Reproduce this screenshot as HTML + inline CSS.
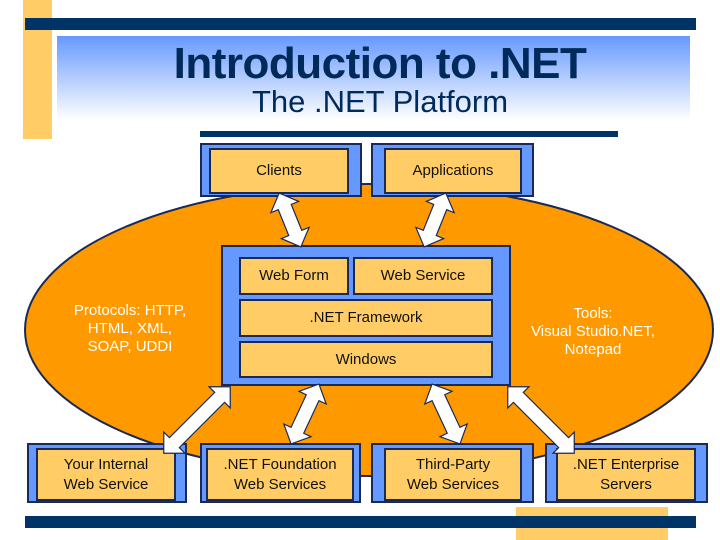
<!DOCTYPE html>
<html><head><style>
body{margin:0;width:720px;height:540px;background:#fff;overflow:hidden;position:relative;font-family:"Liberation Sans",sans-serif}
div{position:absolute;box-sizing:border-box}
.t{color:#002a5a;text-align:center;width:100%}
.box{background:#6699ff;border:2px solid #1a2a55}
.in{background:#ffcc66;border:2px solid #1a2a55;display:flex;align-items:center;justify-content:center;text-align:center;font-size:15px;color:#111;line-height:20px}
</style></head><body>
<div style="left:23px;top:0;width:29px;height:139px;background:#ffcc66"></div>
<div style="left:25px;top:18px;width:671px;height:12px;background:#003366"></div>
<div style="left:57px;top:36px;width:633px;height:84px;background:linear-gradient(#6699ff,#fff)"></div>
<div class="t" style="top:39px;font-size:44px;font-weight:bold;left:20px;letter-spacing:-0.5px">Introduction to .NET</div>
<div class="t" style="top:84px;font-size:31px;left:20px">The .NET Platform</div>
<div style="left:200px;top:131px;width:418px;height:6px;background:#003366"></div>
<div style="left:516px;top:507px;width:152px;height:33px;background:#ffcc66"></div>
<div style="left:25px;top:516px;width:671px;height:12px;background:#003366"></div>
<svg width="720" height="540" style="position:absolute;left:0;top:0">
<ellipse cx="369" cy="330" rx="344" ry="146" fill="#ff9900" stroke="#1a2a55" stroke-width="2"/>
</svg>
<div class="box" style="left:200px;top:143px;width:162px;height:54px"></div>
<div class="in" style="left:209px;top:148px;width:140px;height:46px">Clients</div>
<div class="box" style="left:371px;top:143px;width:163px;height:54px"></div>
<div class="in" style="left:384px;top:148px;width:138px;height:46px">Applications</div>
<div class="box" style="left:221px;top:245px;width:290px;height:141px"></div>
<div class="in" style="left:239px;top:257px;width:110px;height:38px">Web Form</div>
<div class="in" style="left:353px;top:257px;width:140px;height:38px">Web Service</div>
<div class="in" style="left:239px;top:299px;width:254px;height:38px">.NET Framework</div>
<div class="in" style="left:239px;top:341px;width:254px;height:37px">Windows</div>
<div class="box" style="left:27px;top:443px;width:160px;height:60px"></div>
<div class="in" style="left:36px;top:448px;width:140px;height:53px">Your Internal<br>Web Service</div>
<div class="box" style="left:200px;top:443px;width:161px;height:60px"></div>
<div class="in" style="left:206px;top:448px;width:148px;height:53px">.NET Foundation<br>Web Services</div>
<div class="box" style="left:371px;top:443px;width:163px;height:60px"></div>
<div class="in" style="left:384px;top:448px;width:138px;height:53px">Third-Party<br>Web Services</div>
<div class="box" style="left:545px;top:443px;width:163px;height:60px"></div>
<div class="in" style="left:556px;top:448px;width:140px;height:53px">.NET Enterprise<br>Servers</div>
<div style="left:50px;top:302px;width:160px;text-align:center;font-size:15px;line-height:18px;color:#fff">Protocols: HTTP,<br>HTML, XML,<br>SOAP, UDDI</div>
<div style="left:510px;top:305px;width:166px;text-align:center;font-size:15px;line-height:18px;color:#fff">Tools:<br>Visual Studio.NET,<br>Notepad</div>
<svg width="720" height="540" style="position:absolute;left:0;top:0">
<g fill="#fff" stroke="#1a2a55" stroke-width="1.2">
<polygon transform="translate(290,220) rotate(-112)" points="-29,0 -14,-15 -14,-7 14,-7 14,-15 29,0 14,15 14,7 -14,7 -14,15"/>
<polygon transform="translate(435,220) rotate(112)" points="-29,0 -14,-15 -14,-7 14,-7 14,-15 29,0 14,15 14,7 -14,7 -14,15"/>
<polygon transform="translate(197,420) rotate(-45)" points="-47,0 -32,-15 -32,-7 32,-7 32,-15 47,0 32,15 32,7 -32,7 -32,15"/>
<polygon transform="translate(305,414) rotate(-65)" points="-33,0 -18,-15 -18,-7 18,-7 18,-15 33,0 18,15 18,7 -18,7 -18,15"/>
<polygon transform="translate(446,414) rotate(65)" points="-33,0 -18,-15 -18,-7 18,-7 18,-15 33,0 18,15 18,7 -18,7 -18,15"/>
<polygon transform="translate(541,420) rotate(45)" points="-47,0 -32,-15 -32,-7 32,-7 32,-15 47,0 32,15 32,7 -32,7 -32,15"/>
</g></svg>
</body></html>
